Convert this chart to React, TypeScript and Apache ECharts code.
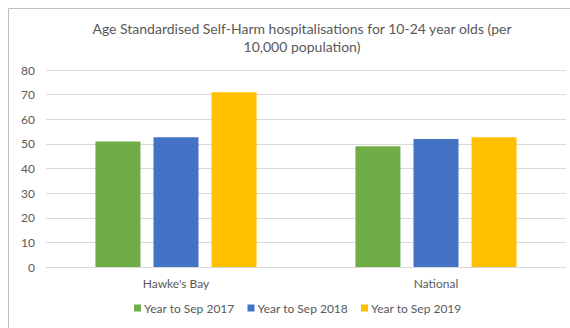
import React, { useEffect, useRef } from "react";
import * as echarts from "echarts";

// Chart data
const categories = ["Hawke's Bay", "National"];
const seriesNames = ["Year to Sep 2017", "Year to Sep 2018", "Year to Sep 2019"];
const values2017 = [51.0, 49.0];
const values2018 = [52.7, 52.0];
const values2019 = [71.0, 52.7];
const seriesColors = ["#70AD47", "#4472C4", "#FFC000"];
const titleText =
  "Age Standardised Self-Harm hospitalisations for 10-24 year olds (per\n10,000 population)";

const FONT = "Lato, 'Open Sans', sans-serif";
const TEXT_COLOR = "#595959";

export default function App() {
  const ref = useRef<HTMLDivElement>(null);

  useEffect(() => {
    if (!ref.current) return;
    const chart = echarts.init(ref.current, null, { renderer: "svg" });
    const allValues = [values2017, values2018, values2019];

    chart.setOption({
      animation: false,
      backgroundColor: "#ffffff",
      textStyle: { fontFamily: FONT },
      title: {
        text: titleText,
        left: 297,
        top: 14,
        textAlign: "center",
        textStyle: {
          fontFamily: FONT,
          fontSize: 14,
          fontWeight: "normal",
          color: TEXT_COLOR,
          lineHeight: 18,
        },
      },
      graphic: [
        {
          type: "polyline",
          shape: { points: [[8.5, 328], [8.5, 8.5], [570, 8.5]] },
          style: { stroke: "#bfbfbf", lineWidth: 1, fill: "none" },
          silent: true,
        },
      ],
      legend: {
        bottom: 9,
        left: 134,
        padding: [5, 0, 5, 0],
        itemWidth: 7,
        itemHeight: 7,
        itemGap: 13,
        icon: "rect",
        textStyle: { fontFamily: FONT, fontSize: 12, color: TEXT_COLOR, padding: [0, 0, 0, -2] },
        data: seriesNames,
      },
      grid: { left: 46, right: 4, top: 70, bottom: 61 },
      xAxis: {
        type: "category",
        data: categories,
        axisLine: { show: true, lineStyle: { color: "#d9d9d9" } },
        axisTick: { show: false },
        axisLabel: { color: TEXT_COLOR, fontSize: 12, fontFamily: FONT, margin: 10 },
      },
      yAxis: {
        type: "value",
        min: 0,
        max: 80,
        interval: 10,
        axisLine: { show: false },
        axisTick: { show: false },
        axisLabel: { color: TEXT_COLOR, fontSize: 12, fontFamily: FONT, margin: 11 },
        splitLine: { lineStyle: { color: "#d9d9d9" } },
      },
      series: seriesNames.map((name, i) => ({
        name,
        type: "bar",
        data: allValues[i],
        barWidth: 45,
        barGap: "29%",
        itemStyle: { color: seriesColors[i] },
      })),
    });

    return () => chart.dispose();
  }, []);

  return (
    <div
      ref={ref}
      style={{ position: "fixed", left: 0, top: 0, width: 570, height: 328 }}
    />
  );
}
